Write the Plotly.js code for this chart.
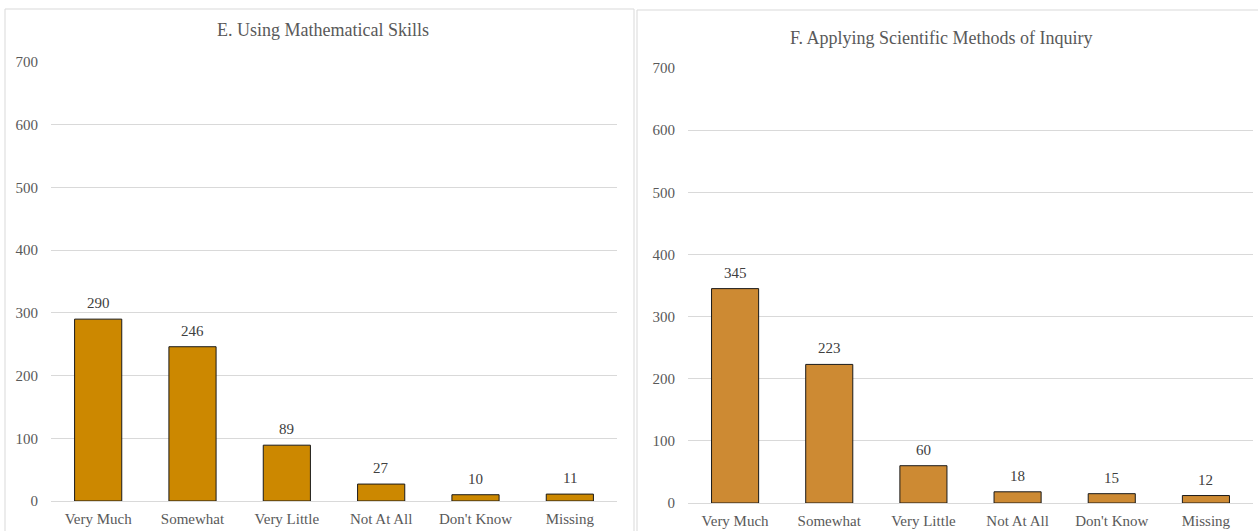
<!DOCTYPE html>
<html>
<head>
<meta charset="utf-8">
<script src="https://cdn.plot.ly/plotly-3.0.1.min.js"></script>
<style>html,body{margin:0;padding:0;background:#fff;}#chart{width:1258px;height:531px;}</style>
</head>
<body>
<div id="chart"></div>
<script>
const categories = ["Very Much", "Somewhat", "Very Little", "Not At All", "Don't Know", "Missing"];
const mathSkills = [290, 246, 89, 27, 10, 11];
const sciInquiry = [345, 223, 60, 18, 15, 12];
const titleE = "E. Using Mathematical Skills";
const titleF = "F. Applying Scientific Methods of Inquiry";
const yTicks = [0, 100, 200, 300, 400, 500, 600, 700];

const W = 1258, H = 531;
const px = x => x / W;
const py = y => (H - y) / H;

const font = "Liberation Serif, Times New Roman, serif";
const tickColor = "#595959";

const traces = [
  {
    type: "bar", x: categories, y: mathSkills, xaxis: "x", yaxis: "y",
    marker: {color: "#CC8800", line: {color: "#1a1a1a", width: 1}}, hoverinfo: "x+y"
  },
  {
    type: "bar", x: categories, y: sciInquiry, xaxis: "x2", yaxis: "y2",
    marker: {color: "#CD8A33", line: {color: "#1a1a1a", width: 1}}, hoverinfo: "x+y"
  }
];

const yaxisBase = {
  range: [0, 700], tickvals: yTicks, showgrid: true, gridcolor: "#d9d9d9", gridwidth: 1,
  zeroline: false, showline: false, ticks: "", ticklabelstandoff: 12,
  tickfont: {family: font, size: 15, color: tickColor}, fixedrange: true
};
const xaxisBase = {
  showgrid: false, zeroline: false, showline: true, linecolor: "#d9d9d9", linewidth: 1,
  ticks: "", ticklabelstandoff: 4, tickfont: {family: font, size: 15, color: tickColor}, fixedrange: true
};

function valueLabels(vals, xa, ya) {
  return categories.map((c, i) => ({
    xref: xa, yref: ya, x: c, y: vals[i], text: String(vals[i]), showarrow: false,
    xanchor: "center", yanchor: "middle", yshift: 16,
    font: {family: font, size: 15, color: "#404040"}
  }));
}

const layout = {
  width: W, height: H, margin: {l: 0, r: 0, t: 0, b: 0},
  paper_bgcolor: "#fff", plot_bgcolor: "rgba(0,0,0,0)",
  showlegend: false, bargap: 0.5, font: {family: font},
  xaxis: Object.assign({}, xaxisBase, {domain: [px(51), px(617)], anchor: "y"}),
  yaxis: Object.assign({}, yaxisBase, {domain: [py(501), py(62)], anchor: "x"}),
  xaxis2: Object.assign({}, xaxisBase, {domain: [px(688), px(1253)], anchor: "y2"}),
  yaxis2: Object.assign({}, yaxisBase, {domain: [py(503), py(68)], anchor: "x2"}),
  shapes: [
    {type: "rect", xref: "paper", yref: "paper", x0: px(5), x1: px(634), y0: -0.05, y1: py(9),
     line: {color: "#d9d9d9", width: 1}, fillcolor: "rgba(0,0,0,0)", layer: "below"},
    {type: "rect", xref: "paper", yref: "paper", x0: px(637), x1: 1.05, y0: -0.05, y1: py(10),
     line: {color: "#d9d9d9", width: 1}, fillcolor: "rgba(0,0,0,0)", layer: "below"}
  ],
  annotations: [
    {xref: "paper", yref: "paper", x: px(323), y: py(30), text: titleE, showarrow: false,
     xanchor: "center", yanchor: "middle", font: {family: font, size: 18, color: "#595959"}},
    {xref: "paper", yref: "paper", x: px(941), y: py(38), text: titleF, showarrow: false,
     xanchor: "center", yanchor: "middle", font: {family: font, size: 18, color: "#595959"}}
  ].concat(valueLabels(mathSkills, "x", "y"), valueLabels(sciInquiry, "x2", "y2"))
};

Plotly.newPlot("chart", traces, layout, {displayModeBar: false, staticPlot: true});
</script>
</body>
</html>
